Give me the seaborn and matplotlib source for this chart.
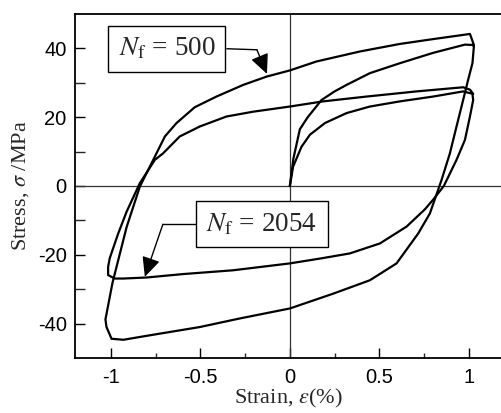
import numpy as np
import pandas as pd
import matplotlib
matplotlib.use("Agg")
import matplotlib.pyplot as plt
import seaborn as sns

# ---------------- data ----------------
# N_f = 500 : initial loading, unloading branch, reloading branch
outer_strain = [0.0, 0.02, 0.056, 0.10, 0.177, 0.25, 0.317, 0.447, 0.615, 0.80, 0.978, 1.02,
                1.028, 1.02, 0.996, 0.968, 0.931, 0.894, 0.847, 0.782, 0.717, 0.596, 0.447,
                0.242, 0.0, -0.279, -0.503, -0.782, -0.93, -0.996, -1.024, -1.03,
                -0.99, -0.968, -0.912, -0.838, -0.763, -0.698, -0.633, -0.531, -0.41,
                -0.26, -0.13, 0.0, 0.149, 0.391, 0.615, 0.80, 1.006, 1.028]
outer_stress = [0.0, 8.0, 16.5, 20.0, 25.0, 27.5, 29.4, 32.8, 35.7, 38.7, 41.1, 41.0,
                40.6, 35.7, 30.9, 25.0, 17.3, 9.5, 1.7, -8.0, -13.8, -22.5, -27.4,
                -31.3, -35.6, -38.5, -41.0, -43.4, -44.7, -44.4, -41.0, -38.8,
                -28.0, -23.5, -12.0, -0.2, 7.6, 14.4, 18.3, 22.9, 26.0,
                29.4, 31.8, 33.6, 36.2, 39.1, 41.3, 42.7, 44.2, 41.0]

# N_f = 2054 : initial loading, unloading branch, reloading branch
inner_strain = [0.0, 0.018, 0.065, 0.112, 0.196, 0.317, 0.447, 0.615, 0.80, 0.968, 1.02,
                1.024, 1.006, 0.978, 0.931, 0.86, 0.80, 0.754, 0.652, 0.503, 0.335, 0.168,
                0.0, -0.317, -0.596, -0.80, -0.931, -0.978, -1.015, -1.015,
                -1.006, -0.96, -0.912, -0.838, -0.754, -0.708, -0.615, -0.503, -0.354,
                -0.205, 0.0, 0.186, 0.428, 0.708, 0.968, 1.006, 1.024]
inner_stress = [0.0, 5.6, 11.4, 14.9, 18.3, 21.2, 23.1, 24.6, 26.0, 27.5, 26.8,
                25.0, 20.2, 13.4, 7.6, 0.0, -4.0, -6.8, -11.8, -16.7, -19.6, -21.1,
                -22.5, -24.5, -25.6, -26.6, -26.9, -26.9, -25.9, -23.5,
                -21.0, -14.0, -7.5, 0.8, 7.6, 9.5, 14.4, 17.3, 20.2,
                21.6, 23.1, 24.6, 26.0, 27.5, 28.7, 28.0, 26.8]

x_ticks = [-1, -0.5, 0, 0.5, 1]
x_tick_labels = ["-1", "-0.5", "0", "0.5", "1"]
y_ticks = [-40, -20, 0, 20, 40]
y_tick_labels = ["-40", "-20", "0", "20", "40"]
label_500 = r"$N_\mathrm{f}$ = 500"
label_2054 = r"$N_\mathrm{f}$ = 2054"

# ---------------- style ----------------
sns.set_style("ticks")
plt.rcParams["font.family"] = ["Liberation Sans", "DejaVu Sans"]
plt.rcParams["axes.unicode_minus"] = False
plt.rcParams["mathtext.fontset"] = "stix"

fig = plt.figure(figsize=(5.02, 4.13), dpi=100)
ax = fig.add_axes([75 / 502, 55 / 413, 1 - 75 / 502, (358 - 14) / 413])

ax.axhline(0, color="#333333", lw=0.9, zorder=1)
ax.axvline(0, color="#333333", lw=0.9, zorder=1)

df_o = pd.DataFrame({"strain": outer_strain, "stress": outer_stress})
df_i = pd.DataFrame({"strain": inner_strain, "stress": inner_stress})
sns.lineplot(data=df_o, x="strain", y="stress", sort=False, estimator=None,
             color="black", lw=1.6, ax=ax, zorder=3)
sns.lineplot(data=df_i, x="strain", y="stress", sort=False, estimator=None,
             color="black", lw=1.6, ax=ax, zorder=3)

ax.set_xlim(-1.2, 1.185)
ax.set_ylim(-50, 50)

ax.set_xticks(x_ticks)
ax.set_xticklabels(x_tick_labels)
ax.set_yticks(y_ticks)
ax.set_yticklabels(y_tick_labels)
ax.set_xticks([-0.75, -0.25, 0.25, 0.75], minor=True)
ax.set_yticks([-30, -10, 10, 30], minor=True)
ax.tick_params(axis="both", which="major", direction="in", length=7, width=1.0,
               labelsize=14.5, color="black", labelcolor="black")
ax.tick_params(axis="x", which="major", pad=7)
ax.tick_params(axis="y", which="major", pad=6)
ax.tick_params(axis="x", which="minor", direction="in", length=3.5, width=1.0)
ax.tick_params(axis="y", which="minor", direction="in", length=7, width=1.0)

for s in ["left", "bottom", "top"]:
    ax.spines[s].set_linewidth(1.3)
    ax.spines[s].set_color("black")
ax.spines["right"].set_visible(False)

ax.set_xlabel(r"Strain, $\varepsilon$(%)", fontsize=16, family="Liberation Serif", labelpad=0)
ax.set_ylabel(r"Stress, $\sigma$ /MPa", fontsize=16, family="Liberation Serif", labelpad=5)

# annotation boxes and arrows
box = dict(boxstyle="square,pad=0.38", fc="white", ec="black", lw=1.0)
ax.text(-0.687, 39.9, label_500, fontsize=19.5, family="Liberation Serif",
        ha="center", va="center", bbox=box, zorder=5)
ax.text(-0.156, -11.1, label_2054, fontsize=19.5, family="Liberation Serif",
        ha="center", va="center", bbox=box, zorder=5)

ax.plot([-0.352, -0.184], [39.9, 39.6], color="black", lw=1.0, zorder=4)
ax.annotate("", xy=(-0.128, 32.6), xytext=(-0.184, 39.6),
            arrowprops=dict(arrowstyle="-|>,head_length=0.6,head_width=0.28",
                            color="black", lw=1.0, mutation_scale=20,
                            shrinkA=0, shrinkB=0), zorder=4)
ax.plot([-0.52, -0.709], [-11.1, -11.1], color="black", lw=1.0, zorder=4)
ax.annotate("", xy=(-0.81, -26.4), xytext=(-0.709, -11.1),
            arrowprops=dict(arrowstyle="-|>,head_length=0.6,head_width=0.28",
                            color="black", lw=1.0, mutation_scale=20,
                            shrinkA=0, shrinkB=0), zorder=4)

fig.savefig("out.png", dpi=100)
